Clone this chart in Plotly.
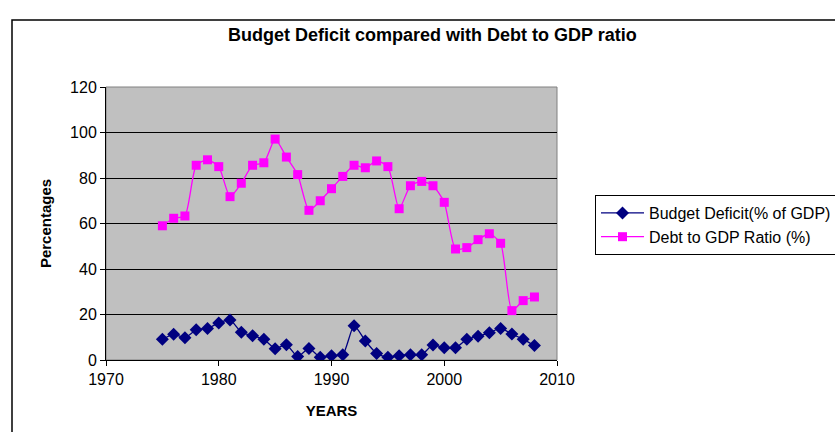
import plotly.graph_objects as go

# Year of each observation
years = [1975, 1976, 1977, 1978, 1979, 1980, 1981, 1982, 1983, 1984,
         1985, 1986, 1987, 1988, 1989, 1990, 1991, 1992, 1993, 1994,
         1995, 1996, 1997, 1998, 1999, 2000, 2001, 2002, 2003, 2004,
         2005, 2006, 2007, 2008]

# Budget deficit, % of GDP
deficit = [9.1, 11.3, 9.8, 13.3, 13.9, 16.3, 17.6, 12.2, 10.7, 9.1,
           5.0, 6.7, 1.5, 5.1, 1.2, 1.9, 2.3, 15.1, 8.4, 2.9,
           1.2, 1.9, 2.3, 2.3, 6.6, 5.4, 5.4, 9.1, 10.4, 12.0,
           13.9, 11.4, 9.1, 6.4]

# Debt to GDP ratio, %
debt = [59.0, 62.3, 63.3, 85.6, 88.0, 85.0, 71.8, 77.7, 85.6, 86.7,
        97.1, 89.2, 81.5, 65.8, 70.0, 75.3, 80.7, 85.6, 84.5, 87.5,
        85.0, 66.5, 76.6, 78.5, 76.6, 69.3, 48.8, 49.4, 52.9, 55.5,
        51.3, 21.7, 26.1, 27.7]

x_ticks = [1970, 1980, 1990, 2000, 2010]
y_ticks = [0, 20, 40, 60, 80, 100, 120]

FONT = "Liberation Sans, Arial, sans-serif"

fig = go.Figure()
fig.add_trace(go.Scatter(
    x=years, y=deficit, name="Budget Deficit(% of GDP)",
    mode="lines+markers",
    line=dict(color="#000080", width=1.3, shape="spline", smoothing=0.6),
    marker=dict(symbol="diamond", size=10, color="#000080"),
))
fig.add_trace(go.Scatter(
    x=years, y=debt, name="Debt to GDP Ratio (%)",
    mode="lines+markers",
    line=dict(color="#FF00FF", width=1.3, shape="spline", smoothing=0.6),
    marker=dict(symbol="square", size=9, color="#FF00FF"),
))

L, R, T, B = 106, 278, 87, 72
PW, PH = 835 - L - R, 432 - T - B


def px_x(p):
    return (p - L) / PW


def px_y(p):
    return (432 - B - p) / PH


fig.update_layout(
    width=835, height=432,
    margin=dict(l=L, r=R, t=T, b=B, autoexpand=False),
    paper_bgcolor="white",
    plot_bgcolor="#C0C0C0",
    font=dict(family=FONT, size=16, color="black"),
    showlegend=True,
    legend=dict(
        x=px_x(595), y=px_y(195), xanchor="left", yanchor="top",
        bgcolor="white", bordercolor="black", borderwidth=1,
        font=dict(family=FONT, size=16, color="black"),
        itemwidth=43, tracegroupgap=0,
    ),
    xaxis=dict(
        range=[1970, 2010], tickvals=x_ticks,
        ticks="outside", ticklen=5, tickcolor="black",
        showline=True, linecolor="black", linewidth=1,
        showgrid=False, zeroline=False,
        title=dict(text="<b>YEARS</b>", font=dict(family=FONT, size=15), standoff=18),
    ),
    yaxis=dict(
        range=[0, 120], tickvals=y_ticks,
        ticks="outside", ticklen=5, tickcolor="black",
        showline=True, linecolor="black", linewidth=1,
        showgrid=True, gridcolor="black", gridwidth=1,
        zeroline=False,
        title=dict(text="<b>Percentages</b>", font=dict(family=FONT, size=15), standoff=14),
    ),
    shapes=[
        # plot area frame
        dict(type="rect", xref="paper", yref="paper", x0=0, x1=1, y0=0, y1=1,
             line=dict(color="#808080", width=1), layer="below"),
        # chart frame
        dict(type="rect", xref="paper", yref="paper",
             x0=px_x(12), x1=px_x(845), y0=px_y(442), y1=px_y(20),
             line=dict(color="black", width=1.5)),
    ],
    annotations=[
        dict(text="<b>Budget Deficit compared with Debt to GDP ratio</b>",
             xref="paper", yref="paper", x=px_x(432), y=px_y(35),
             xanchor="center", yanchor="middle", showarrow=False,
             font=dict(family=FONT, size=18, color="black")),
    ],
)

fig.write_html("out.html")
